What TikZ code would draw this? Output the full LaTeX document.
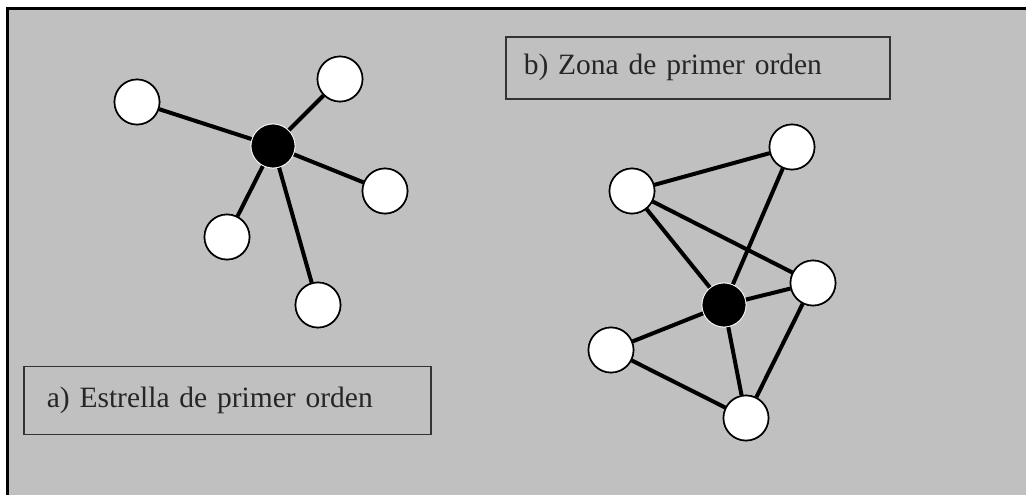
\documentclass[tikz,border=0pt]{standalone}
\usepackage{fontspec}
\setmainfont{Liberation Serif}
\definecolor{bggray}{RGB}{192,192,192}
\begin{document}
\begin{tikzpicture}[x=1pt,y=-1pt,
  wnode/.style={circle,draw=black,line width=1.6pt,fill=white,minimum size=45pt,inner sep=0pt},
  bnode/.style={circle,draw=white,line width=0.8pt,fill=black,minimum size=44pt,inner sep=0pt},
  link/.style={line width=4pt,black},
  labelbox/.style={draw=black!80,line width=1.6pt,minimum height=62pt,inner sep=0pt,anchor=north west,font=\fontsize{29.5}{32}\selectfont,text=black!85}]
\useasboundingbox (0,0) rectangle (1026,495);
\fill[white] (0,0) rectangle (1026,495);
\fill[bggray] (7.5,9) rectangle (1026,495);
\draw[line width=3pt] (7.5,495) -- (7.5,9) -- (1026,9);
% star (a)
\node[bnode] (c1) at (273,146) {};
\node[wnode] (s1) at (137,102) {};
\node[wnode] (s2) at (340,79) {};
\node[wnode] (s3) at (385,191) {};
\node[wnode] (s4) at (227,237) {};
\node[wnode] (s5) at (318,305) {};
% zone (b)
\node[bnode] (c2) at (724,305) {};
\node[wnode] (za) at (632,191) {};
\node[wnode] (zb) at (792,147) {};
\node[wnode] (zc) at (813,283) {};
\node[wnode] (zd) at (611,350) {};
\node[wnode] (ze) at (746,418) {};
% links
\foreach \n in {s1,s2,s3,s4,s5} {\draw[link] (c1) -- (\n);}
\draw[link] (za) -- (zb);
\draw[link] (za) -- (c2);
\draw[link] (za) -- (zc);
\draw[link] (zb) -- (c2);
\draw[link] (zc) -- (c2);
\draw[link] (zc) -- (ze);
\draw[link] (c2) -- (zd);
\draw[link] (c2) -- (ze);
\draw[link] (zd) -- (ze);
% redraw nodes on top
\node[bnode] at (c1) {};
\foreach \n in {s1,s2,s3,s4,s5,za,zb,zc,zd,ze} {\node[wnode] at (\n) {};}
\node[bnode] at (c2) {};
% labels
\node[labelbox,minimum width=384pt,text width=364pt,align=left] (lb) at (505,36) {\hspace*{8pt}b) Zona de primer orden};
\node[labelbox,minimum width=407pt,minimum height=68pt,text width=385pt,align=left] (la) at (23,365.5) {\hspace*{12pt}a) Estrella de primer orden};
\end{tikzpicture}
\end{document}
